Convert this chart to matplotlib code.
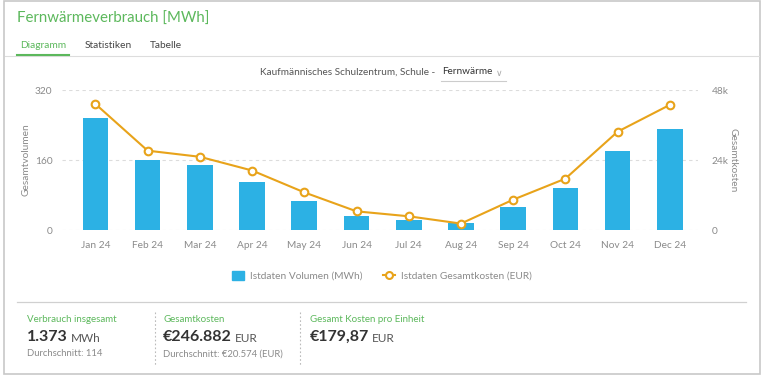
import matplotlib
matplotlib.use("Agg")
import matplotlib.pyplot as plt
from matplotlib.lines import Line2D
from matplotlib.patches import Rectangle, Patch
from matplotlib.ticker import FuncFormatter

# Monthly district-heating data 2024
months = ["Jan 24", "Feb 24", "Mar 24", "Apr 24", "May 24", "Jun 24",
          "Jul 24", "Aug 24", "Sep 24", "Oct 24", "Nov 24", "Dec 24"]
volume_mwh = [255, 161, 148, 110, 67, 33, 23, 15, 53, 95, 181, 232]
cost_eur = [43200, 27200, 25100, 20400, 12900, 6400, 4700, 2200, 10400, 17600, 33700, 42900]
left_ticks = [0, 160, 320]
right_ticks = [0, 24000, 48000]

W, H = 763, 376
plt.rcParams["font.family"] = ["Lato", "DejaVu Sans"]

GREEN = "#5cb85c"
BLUE = "#2cb1e4"
ORANGE = "#e8a31a"
GREY = "#8a8a8a"
DARK = "#444444"

fig = plt.figure(figsize=(W / 100, H / 100), dpi=100)
fig.patch.set_facecolor("white")


def fx(x):
    return x / W


def fy(y):
    return 1 - y / H


# outer card frame
fig.add_artist(Rectangle((fx(4), fy(374)), fx(760) - fx(4), fy(1) - fy(374),
                         transform=fig.transFigure, fill=False, ec="#c8c8c8", lw=1.2))

# header
fig.text(fx(17), fy(19), "Fernwärmeverbrauch [MWh]", color=GREEN, fontsize=10.8,
         va="center", ha="left")
fig.text(fx(20), fy(45), "Diagramm", color=GREEN, fontsize=7.3, va="center")
fig.text(fx(85), fy(45), "Statistiken", color=DARK, fontsize=7.3, va="center")
fig.text(fx(150), fy(45), "Tabelle", color=DARK, fontsize=7.3, va="center")
fig.add_artist(Line2D([fx(5), fx(759)], [fy(55.5), fy(55.5)], transform=fig.transFigure,
                      color="#dddddd", lw=0.8))
fig.add_artist(Line2D([fx(17), fx(69)], [fy(55), fy(55)], transform=fig.transFigure,
                      color=GREEN, lw=1.5))

# chart subtitle
fig.text(fx(438), fy(72), "Kaufmännisches Schulzentrum, Schule - ", color="#555555",
         fontsize=7.2, va="center", ha="right")
fig.text(fx(442), fy(72), "Fernwärme", color="#333333", fontsize=7.2, va="center", ha="left")
fig.text(fx(496), fy(73), "∨", color="#aaaaaa", fontsize=6.5, va="center", ha="left",
         family=["DejaVu Sans"])
fig.add_artist(Line2D([fx(441), fx(506)], [fy(80.5), fy(80.5)], transform=fig.transFigure,
                      color="#cccccc", lw=0.8))

# main axes
ax_left, ax_right, ax_top, ax_bottom = 62, 698, 90, 230
ax = fig.add_axes([fx(ax_left), fy(ax_bottom), fx(ax_right) - fx(ax_left),
                   fy(ax_top) - fy(ax_bottom)])
x = list(range(len(months)))
ax.bar(x, volume_mwh, width=0.49, color=BLUE, zorder=2)
ax.set_xlim(-0.64, 11.54)
ax.set_ylim(0, 320)
ax.set_yticks(left_ticks)
ax.set_xticks(x)
ax.set_xticklabels(months)
ax.grid(axis="y", linestyle=(0, (3, 3)), color="#dcdcdc", lw=0.8, zorder=0)
for s in ax.spines.values():
    s.set_visible(False)
ax.tick_params(axis="both", length=0, labelsize=7.3, labelcolor=GREY)
ax.tick_params(axis="x", pad=8)
ax.tick_params(axis="y", pad=7)
ax.set_ylabel("Gesamtvolumen", color=GREY, fontsize=7.3, labelpad=3)

ax2 = ax.twinx()
ax2.set_ylim(0, 48000)
ax2.set_yticks(right_ticks)
ax2.yaxis.set_major_formatter(FuncFormatter(lambda v, p: "0" if v == 0 else f"{int(v / 1000)}k"))
ax2.plot(x, cost_eur, color=ORANGE, lw=1.5, marker="o", markersize=5.5,
         markerfacecolor="white", markeredgecolor=ORANGE, markeredgewidth=1.5,
         clip_on=False, zorder=3)
for s in ax2.spines.values():
    s.set_visible(False)
ax2.tick_params(axis="y", length=0, labelsize=7.3, labelcolor=GREY, pad=10)
ax2.set_ylabel("Gesamtkosten", color=GREY, fontsize=7.3, rotation=270, labelpad=6)

# legend
handles = [Patch(facecolor=BLUE, edgecolor=BLUE),
           Line2D([0], [0], color=ORANGE, lw=1.5, marker="o", markersize=5,
                  markerfacecolor="white", markeredgecolor=ORANGE, markeredgewidth=1.5)]
leg = fig.legend(handles, ["Istdaten Volumen (MWh)", "Istdaten Gesamtkosten (EUR)"],
                 loc="center", bbox_to_anchor=(fx(382), fy(276)), ncol=2, frameon=False,
                 fontsize=7.3, handlelength=1.2, handleheight=0.9, columnspacing=2.0,
                 handletextpad=0.6)
for t in leg.get_texts():
    t.set_color(GREY)

# summary section
fig.add_artist(Line2D([fx(17), fx(746)], [fy(302), fy(302)], transform=fig.transFigure,
                      color="#d0d0d0", lw=0.9))
for xs in (155, 300):
    fig.add_artist(Line2D([fx(xs), fx(xs)], [fy(312), fy(366)], transform=fig.transFigure,
                          color="#bbbbbb", lw=0.8, linestyle=(0, (1.5, 2))))

renderer = fig.canvas.get_renderer()
stats = [
    (27, "Verbrauch insgesamt", "1.373", "MWh", "Durchschnitt: 114"),
    (163, "Gesamtkosten", "€246.882", "EUR", "Durchschnitt: €20.574 (EUR)"),
    (310, "Gesamt Kosten pro Einheit", "€179,87", "EUR", None),
]
for x0, label, big, unit, avg in stats:
    fig.text(fx(x0), fy(319), label, color=GREEN, fontsize=7, va="center")
    tb = fig.text(fx(x0), fy(337), big, color="#333333", fontsize=11.5, fontweight="bold",
                  va="center")
    ext = tb.get_window_extent(renderer=renderer)
    fig.text((ext.x1 + 3) / W, fy(338), unit, color="#555555", fontsize=8.5, va="center")
    if avg:
        fig.text(fx(x0), fy(354), avg, color=GREY, fontsize=6.8, va="center")

fig.savefig("out.png", dpi=100, facecolor="white")
